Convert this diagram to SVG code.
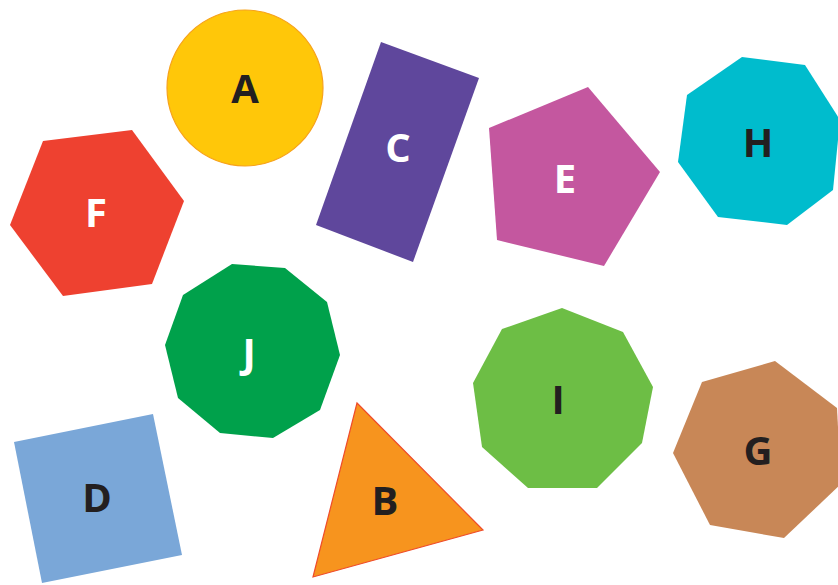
<svg xmlns="http://www.w3.org/2000/svg" width="838" height="585" viewBox="0 0 838 585">
<style>
text{font-family:"Open Sans","Liberation Sans",sans-serif;font-weight:700;font-size:40px;text-anchor:middle}
.dk{fill:#231F20}
.wt{fill:#FFFFFF}
</style>
<rect width="838" height="585" fill="#FFFFFF"/>
<g id="connectors"/>
<g id="F"><polygon points="43,141 132,130 184,201 152,284 63,296 10,225" fill="#EE4130"/><text class="wt" x="96" y="227">F</text></g>
<g id="A"><circle cx="245" cy="88" r="78" fill="#FFC709" stroke="#F7A21B" stroke-width="1.2"/><text class="dk" x="245" y="103">A</text></g>
<g id="C"><polygon points="381,42 479,78 413,262 316,225" fill="#5F479C"/><text class="wt" x="398" y="162">C</text></g>
<g id="E"><polygon points="588,87 660,172 604,266 497,240 489,128" fill="#C4579F"/><text class="wt" x="565" y="193">E</text></g>
<g id="H"><polygon points="742,57 805,65 840,120 833,190 787,225 718,217 678,162 687,95" fill="#00BCCD"/><text class="dk" x="758" y="157">H</text></g>
<g id="J"><polygon points="232,264 285,268 327,302 340,355 320,410 273,438 220,433 178,398 165,345 183,295" fill="#00A14B"/><text class="wt" x="249" y="367">J</text></g>
<g id="D"><polygon points="14,442 153,414 182,555 42,583" fill="#7AA7D8"/><text class="dk" x="97" y="512">D</text></g>
<g id="B"><polygon points="357,403 483,530 313,577" fill="#F7941E" stroke="#EF4B2A" stroke-width="1.2"/><text class="dk" x="385" y="515">B</text></g>
<g id="I"><polygon points="562,308 623,332 653,387 642,443 597,488 528,488 482,447 473,383 502,329" fill="#6DBE45"/><text class="dk" x="558" y="414">I</text></g>
<g id="G"><polygon points="775,361 837,408 841,484 784,538 710,525 673,453 702,382" fill="#C88757"/><text class="dk" x="758" y="465">G</text></g>
</svg>
